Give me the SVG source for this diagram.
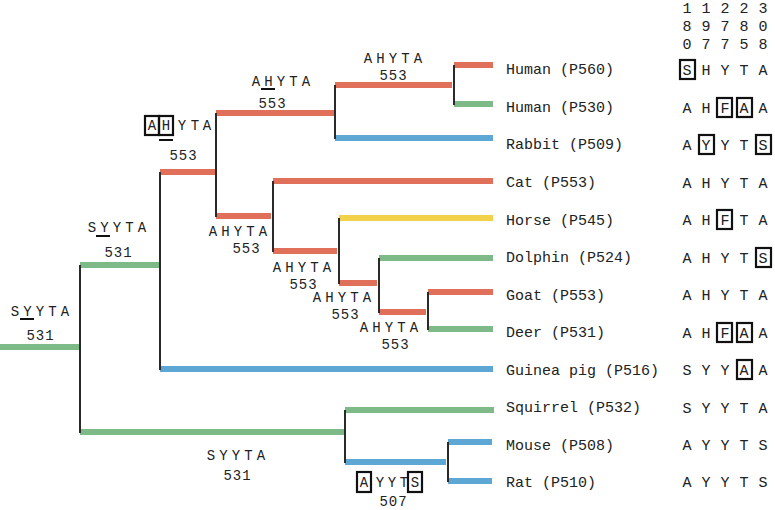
<svg xmlns="http://www.w3.org/2000/svg" width="775" height="510" viewBox="0 0 775 510">
<style>
text{font-family:"Liberation Mono","DejaVu Sans Mono",monospace;font-size:15px;fill:#222}
.m{text-anchor:middle}
.k{text-anchor:middle;font-size:14px}
.n{text-anchor:middle;letter-spacing:1px;font-size:14px}
.r{stroke:#E0705A;stroke-width:6}
.g{stroke:#7DBA88;stroke-width:6}
.b{stroke:#5CA7D4;stroke-width:6}
.y{stroke:#F1D24A;stroke-width:6}
.v{stroke:#2a2a2a;stroke-width:2}
.box{fill:none;stroke:#111;stroke-width:2.2}
.ul{stroke:#111;stroke-width:2}
</style>
<rect width="775" height="510" fill="#fff"/>
<g id="connectors">
<line class="g" x1="0" y1="347" x2="80" y2="347"/>
<line class="g" x1="80" y1="265" x2="159" y2="265"/>
<line class="g" x1="80" y1="432" x2="344" y2="432"/>
<line class="b" x1="160" y1="369" x2="493" y2="369"/>
<line class="r" x1="160" y1="172" x2="215" y2="172"/>
<line class="r" x1="216" y1="113" x2="334" y2="113"/>
<line class="r" x1="216" y1="216" x2="271" y2="216"/>
<line class="r" x1="335" y1="85" x2="452" y2="85"/>
<line class="r" x1="454" y1="65" x2="493" y2="65"/>
<line class="g" x1="454" y1="104" x2="493" y2="104"/>
<line class="b" x1="335" y1="138" x2="493" y2="138"/>
<line class="r" x1="273" y1="181" x2="493" y2="181"/>
<line class="r" x1="273" y1="251" x2="337" y2="251"/>
<line class="y" x1="339" y1="218" x2="493" y2="218"/>
<line class="r" x1="339" y1="283" x2="377" y2="283"/>
<line class="g" x1="379" y1="258" x2="493" y2="258"/>
<line class="r" x1="379" y1="312" x2="426" y2="312"/>
<line class="r" x1="428" y1="292" x2="493" y2="292"/>
<line class="g" x1="428" y1="329" x2="493" y2="329"/>
<line class="g" x1="345" y1="410" x2="494" y2="410"/>
<line class="b" x1="345" y1="462" x2="446" y2="462"/>
<line class="b" x1="448" y1="442" x2="492" y2="442"/>
<line class="b" x1="448" y1="481" x2="492" y2="481"/>
<line class="v" x1="80" y1="265" x2="80" y2="433"/>
<line class="v" x1="160" y1="172" x2="160" y2="370"/>
<line class="v" x1="216" y1="113" x2="216" y2="217"/>
<line class="v" x1="335" y1="85" x2="335" y2="139"/>
<line class="v" x1="454" y1="65" x2="454" y2="105"/>
<line class="v" x1="273" y1="181" x2="273" y2="252"/>
<line class="v" x1="339" y1="218" x2="339" y2="284"/>
<line class="v" x1="379" y1="258" x2="379" y2="313"/>
<line class="v" x1="428" y1="292" x2="428" y2="330"/>
<line class="v" x1="345" y1="410" x2="345" y2="463"/>
<line class="v" x1="448" y1="442" x2="448" y2="482"/>
</g>
<g id="header">
<text class="m" x="687 706 725 744 763" y="13">11223</text>
<text class="m" x="687 706 725 744 763" y="31">89780</text>
<text class="m" x="687 706 725 744 763" y="49">07758</text>
</g>
<g id="leaf-human-p560"><text x="506" y="74">Human (P560)</text><text class="m" x="687 706 725 744 763" y="75">SHYTA</text><rect class="box" x="680" y="60" width="15" height="19"/></g>
<g id="leaf-human-p530"><text x="506" y="112">Human (P530)</text><text class="m" x="687 706 725 744 763" y="113">AHFAA</text><rect class="box" x="717" y="98" width="15" height="19"/><rect class="box" x="737" y="98" width="15" height="19"/></g>
<g id="leaf-rabbit"><text x="506" y="149">Rabbit (P509)</text><text class="m" x="687 706 725 744 763" y="150">AYYTS</text><rect class="box" x="699" y="135" width="15" height="19"/><rect class="box" x="756" y="135" width="15" height="19"/></g>
<g id="leaf-cat"><text x="506" y="187">Cat (P553)</text><text class="m" x="687 706 725 744 763" y="188">AHYTA</text></g>
<g id="leaf-horse"><text x="506" y="225">Horse (P545)</text><text class="m" x="687 706 725 744 763" y="225">AHFTA</text><rect class="box" x="717" y="210" width="15" height="19"/></g>
<g id="leaf-dolphin"><text x="506" y="262">Dolphin (P524)</text><text class="m" x="687 706 725 744 763" y="263">AHYTS</text><rect class="box" x="756" y="248" width="15" height="19"/></g>
<g id="leaf-goat"><text x="506" y="300">Goat (P553)</text><text class="m" x="687 706 725 744 763" y="300">AHYTA</text></g>
<g id="leaf-deer"><text x="506" y="337">Deer (P531)</text><text class="m" x="687 706 725 744 763" y="338">AHFAA</text><rect class="box" x="717" y="323" width="15" height="19"/><rect class="box" x="737" y="323" width="15" height="19"/></g>
<g id="leaf-guinea-pig"><text x="506" y="375">Guinea pig (P516)</text><text class="m" x="687 706 725 744 763" y="375">SYYAA</text><rect class="box" x="737" y="360" width="15" height="19"/></g>
<g id="leaf-squirrel"><text x="506" y="412">Squirrel (P532)</text><text class="m" x="687 706 725 744 763" y="413">SYYTA</text></g>
<g id="leaf-mouse"><text x="506" y="450">Mouse (P508)</text><text class="m" x="687 706 725 744 763" y="450">AYYTS</text></g>
<g id="leaf-rat"><text x="506" y="487">Rat (P510)</text><text class="m" x="687 706 725 744 763" y="487">AYYTS</text></g>
<g id="node-root"><text class="k" x="15 27.5 40 52.5 65" y="316">SYYTA</text><line class="ul" x1="20" y1="319" x2="34" y2="319"/><text class="n" x="40.5" y="340">531</text></g>
<g id="node-upper"><text class="k" x="92 104.5 117 129.5 142" y="232">SYYTA</text><line class="ul" x1="96" y1="236" x2="110" y2="236"/><text class="n" x="118.5" y="257">531</text></g>
<g id="node-lower"><text class="k" x="211 223.5 236 248.5 261" y="460">SYYTA</text><text class="n" x="237.5" y="480">531</text></g>
<g id="node-mouse-rat"><text class="k" x="364 380 392 404 415" y="487">AYYTS</text><rect class="box" x="357" y="472" width="14" height="20"/><rect class="box" x="408" y="472" width="14" height="20"/><text class="n" x="393.5" y="506">507</text></g>
<g id="node-a1"><text class="k" x="152 166 182 195 207" y="130">AHYTA</text><rect class="box" x="145" y="116" width="14" height="19"/><rect class="box" x="159" y="116" width="14" height="19"/><line class="ul" x1="159" y1="140" x2="173" y2="140"/><text class="n" x="183.5" y="160">553</text></g>
<g id="node-a2"><text class="k" x="256 268.5 281 293.5 306" y="86">AHYTA</text><line class="ul" x1="261" y1="89" x2="275" y2="89"/><text class="n" x="272.5" y="108">553</text></g>
<g id="node-a3"><text class="k" x="368 380.5 393 405.5 418" y="63">AHYTA</text><text class="n" x="393.5" y="80">553</text></g>
<g id="node-a4"><text class="k" x="213 225.5 238 250.5 263" y="236">AHYTA</text><text class="n" x="246.5" y="253">553</text></g>
<g id="node-a5"><text class="k" x="277 289.5 302 314.5 327" y="272">AHYTA</text><text class="n" x="303.5" y="289">553</text></g>
<g id="node-a6"><text class="k" x="317 329.5 342 354.5 367" y="302">AHYTA</text><text class="n" x="345.5" y="319">553</text></g>
<g id="node-a7"><text class="k" x="364 376.5 389 401.5 414" y="332">AHYTA</text><text class="n" x="395.5" y="349">553</text></g>
</svg>
